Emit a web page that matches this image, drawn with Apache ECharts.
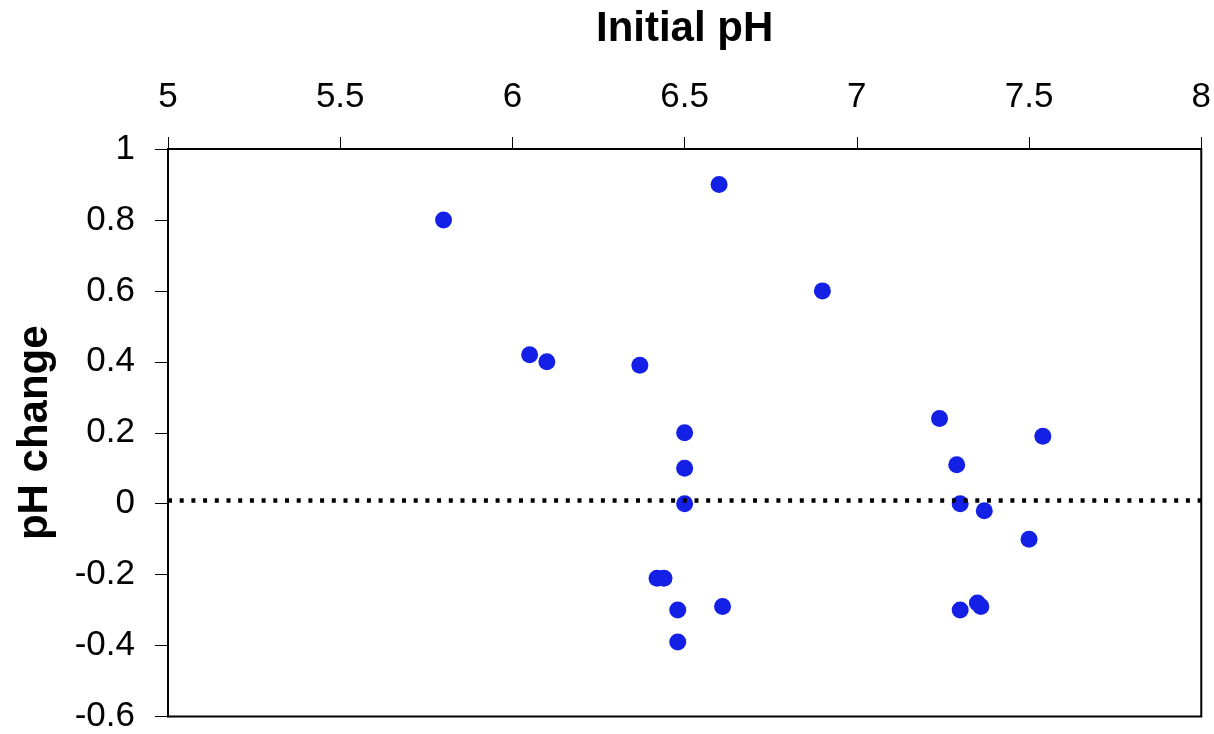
<!DOCTYPE html>
<html>
<head>
<meta charset="utf-8">
<script src="https://cdn.jsdelivr.net/npm/echarts@6/dist/echarts.min.js"></script>
<style>
    html, body { margin: 0; padding: 0; background: #fff; }
    #chart { width: 1214px; height: 734px; }
</style>
</head>
<body>
<div id="chart"></div>
<script>
    // initial pH of each sample
    const initialPH = [
        5.80, 6.60, 6.90, 6.05, 6.10, 6.37,
        6.50, 6.50, 6.50, 6.42, 6.44, 6.48, 6.48, 6.61,
        7.24, 7.54, 7.29, 7.30, 7.37, 7.50, 7.30, 7.35, 7.36
    ]
    // pH change for the same samples
    const phChange = [
        0.80, 0.90, 0.60, 0.42, 0.40, 0.39,
        0.20, 0.10, 0.00, -0.21, -0.21, -0.30, -0.39, -0.29,
        0.24, 0.19, 0.11, 0.00, -0.02, -0.10, -0.30, -0.28, -0.29
    ]
    // horizontal dotted reference line
    const refLevel = 0.013

    const points = initialPH.map((x, i) => [x, phChange[i]])

    const font = 'Liberation Sans, Arial, sans-serif'

    const chart = echarts.init(document.getElementById('chart'))
    chart.setOption({
        animation: false,
        backgroundColor: '#fff',
        grid: {
            left: 168, top: 149, right: 11, bottom: 17,
            show: true, borderColor: '#000', borderWidth: 2,
        },
        xAxis: {
            type: 'value',
            position: 'top',
            min: 5, max: 8, interval: 0.5,
            name: 'Initial pH',
            nameLocation: 'middle',
            nameGap: 99,
            nameTextStyle: { fontFamily: font, fontSize: 42, fontWeight: 'bold', color: '#000' },
            axisLine: { onZero: false, lineStyle: { color: '#000', width: 2 } },
            axisTick: { show: true, length: 12, lineStyle: { color: '#000', width: 1 } },
            axisLabel: { fontFamily: font, fontSize: 35, color: '#000', margin: 34 },
            splitLine: { show: false },
        },
        yAxis: {
            type: 'value',
            min: -0.6, max: 1, interval: 0.2,
            name: 'pH change',
            nameLocation: 'middle',
            nameGap: 112,
            nameTextStyle: { fontFamily: font, fontSize: 42, fontWeight: 'bold', color: '#000' },
            axisLine: { onZero: false, lineStyle: { color: '#000', width: 2 } },
            axisTick: { show: true, length: 13, lineStyle: { color: '#000', width: 1 } },
            axisLabel: { fontFamily: font, fontSize: 35, color: '#000', margin: 33 },
            splitLine: { show: false },
        },
        series: [
            {
                type: 'scatter',
                data: points,
                symbolSize: 17,
                itemStyle: { color: '#1420e6', opacity: 1 },
                markLine: {
                    silent: true,
                    symbol: ['none', 'none'],
                    label: { show: false },
                    lineStyle: { color: '#000', width: 4.5, type: [4, 7.7], opacity: 1 },
                    emphasis: { disabled: true },
                    data: [{ yAxis: refLevel }],
                },
            },
        ],
    })
</script>
</body>
</html>
